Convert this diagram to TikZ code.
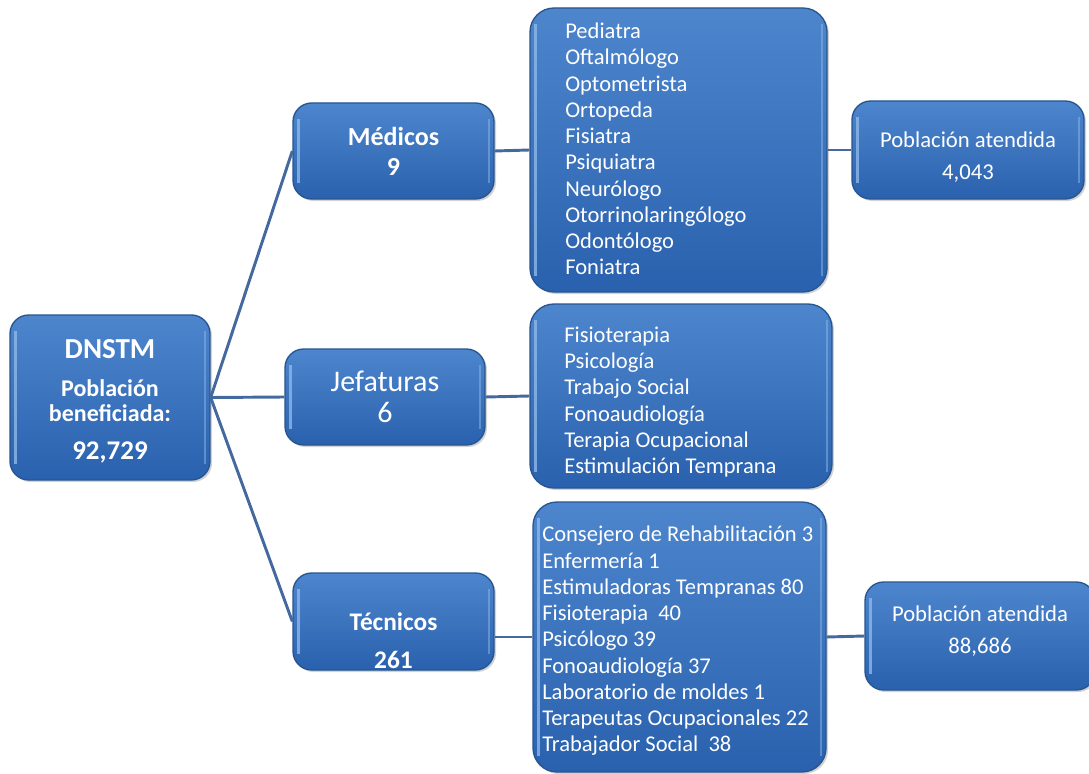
\documentclass[tikz,border=0pt]{standalone}
\usepackage{fontspec}
\setmainfont{Carlito}
\usetikzlibrary{shadows}
\definecolor{boxtop}{HTML}{4D86CD}
\definecolor{boxbot}{HTML}{2A61AE}
\definecolor{boxedge}{HTML}{27558F}
\definecolor{glint}{HTML}{8DB8E8}
\definecolor{linkc}{HTML}{44699E}
\tikzset{
  box/.style={rectangle, rounded corners=14pt, top color=boxtop, bottom color=boxbot,
    draw=boxedge, line width=1pt, text=white, inner sep=0pt,
    drop shadow={opacity=0.35, shadow xshift=1.5pt, shadow yshift=-1.5pt},
    path picture={
      \draw[glint, line width=2pt, opacity=0.8]
        ([xshift=4pt,yshift=-12pt]path picture bounding box.north west) --
        ([xshift=4pt,yshift=12pt]path picture bounding box.south west);
      \draw[glint, line width=1.5pt, opacity=0.5]
        ([xshift=-4pt,yshift=-12pt]path picture bounding box.north east) --
        ([xshift=-4pt,yshift=12pt]path picture bounding box.south east);
    }},
  listbox/.style={box, rounded corners=18pt},
  listtext/.style={text=white, inner sep=0pt, align=left, anchor=west,
    font=\fontsize{16.9pt}{19.7pt}\selectfont},
  boxtext/.style={text=white, inner sep=0pt, align=center},
  link/.style={draw=linkc, line width=2.2pt},
}
\begin{document}
\begin{tikzpicture}[x=0.75pt, y=-0.75pt]
\clip (0,0) rectangle (1089,774);
\useasboundingbox (0,0) rectangle (1089,774);

% root
\node[box, minimum width=150pt, minimum height=123.75pt] (root) at (110,397.5) {};
\node[boxtext, font=\bfseries\fontsize{21.75pt}{22pt}\selectfont] (roott1) at (110,349) {DNSTM};
\node[boxtext, font=\bfseries\fontsize{18pt}{18.75pt}\selectfont] (roott2) at (110,401) {Población\\beneficiada:};
\node[boxtext, font=\bfseries\fontsize{20.25pt}{22pt}\selectfont] (roott3) at (110,452) {92,729};

% second level
\node[box, minimum width=150.75pt, minimum height=72pt, align=center,
  font=\bfseries\fontsize{19.5pt}{22.5pt}\selectfont] (med) at (393.5,151)
  {Médicos\\9};
\node[box, minimum width=150pt, minimum height=72pt, align=center,
  font=\fontsize{22.5pt}{23.5pt}\selectfont] (jef) at (385,397)
  {Jefaturas\\6};
\node[box, minimum width=150.75pt, minimum height=72.75pt] (tec) at (393.5,621.5) {};
\node[boxtext, font=\bfseries\fontsize{19pt}{28.5pt}\selectfont] (tect) at (393.5,641) {Técnicos\\261};

% lists
\node[listbox, minimum width=222.75pt, minimum height=213pt] (medlist) at (678.5,150) {};
\node[listtext] (medlistt) at (565,149)
  {Pediatra\\Oftalmólogo\\Optometrista\\Ortopeda\\Fisiatra\\Psiquiatra\\Neurólogo\\Otorrinolaringólogo\\Odontólogo\\Foniatra};
\node[listbox, minimum width=226.5pt, minimum height=138pt] (jeflist) at (681,396) {};
\node[listtext] (jeflistt) at (564,402)
  {Fisioterapia\\Psicología\\Trabajo Social\\Fonoaudiología\\Terapia Ocupacional\\Estimulación Temprana};
\node[listbox, minimum width=219.75pt, minimum height=202.5pt] (teclist) at (679.5,637) {};
\node[listtext] (teclistt) at (542,641)
  {Consejero de Rehabilitación 3\\Enfermería 1\\Estimuladoras Tempranas 80\\Fisioterapia\ \ 40\\Psicólogo 39\\Fonoaudiología 37\\Laboratorio de moldes 1\\Terapeutas Ocupacionales 22\\Trabajador Social\ \ 38};

% population
\node[box, minimum width=174pt, minimum height=73.5pt] (pop1) at (968,150) {};
\node[boxtext, font=\fontsize{17pt}{24pt}\selectfont] (pop1t) at (968,157) {Población atendida\\4,043};
\node[box, minimum width=172.5pt, minimum height=81pt] (pop2) at (980,636) {};
\node[boxtext, font=\fontsize{17pt}{24pt}\selectfont] (pop2t) at (980,631) {Población atendida\\88,686};

\draw[link] (root.east) -- (med.west);
\draw[link] (root.east) -- (jef.west);
\draw[link] (root.east) -- (tec.west);
\draw[link] (med.east) -- (medlist.west);
\draw[link] (jef.east) -- (jeflist.west);
\draw[link] (tec.east |- teclist.west) -- (teclist.west);
\draw[link] (medlist.east) -- (pop1.west);
\draw[link] (teclist.east) -- (pop2.west);
\end{tikzpicture}
\end{document}
